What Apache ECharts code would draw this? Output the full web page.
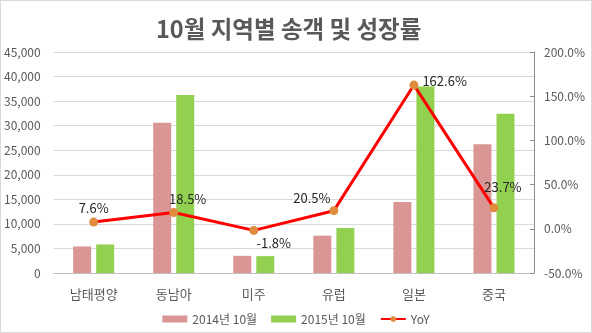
<!DOCTYPE html>
<html>
<head>
<meta charset="utf-8">
<script src="https://cdn.jsdelivr.net/npm/echarts@6/dist/echarts.min.js"></script>
<style>
  html, body { margin: 0; padding: 0; background: #fff; }
  #chart { width: 590px; height: 331px; border: 1px solid #d9d9d9; }
</style>
</head>
<body>
<div id="chart"></div>
<script>
// Regions and monthly passenger counts (October)
const categories = ['남태평양', '동남아', '미주', '유럽', '일본', '중국'];
const pax2014 = [5400, 30600, 3500, 7600, 14450, 26200];
const pax2015 = [5810, 36260, 3437, 9160, 37950, 32410];
// Year-over-year growth, percent
const yoy = [7.6, 18.5, -1.8, 20.5, 162.6, 23.7];
const yoyLabelPos = ['top', 'top', 'bottom', 'top', 'right', 'top'];
const yoyLabelOffset = [[0, 3], [14, 4], [20, -4], [-22, 4], [-2, -4], [9, -4]];

const FONT = '"Noto Sans CJK KR", "Noto Sans", sans-serif';
const TXT = '#595959';

const chart = echarts.init(document.getElementById('chart'), null, { renderer: 'canvas' });

chart.setOption({
  animation: false,
  textStyle: { fontFamily: FONT },
  title: {
    text: '10월 지역별 송객 및 성장률',
    left: 150,
    top: 11,
    textStyle: { fontFamily: FONT, fontSize: 23.5, fontWeight: 'bold', color: TXT }
  },
  grid: { left: 49, right: 57, top: 51, bottom: 59 },
  legend: {
    bottom: 2,
    left: 'center',
    itemWidth: 25,
    itemHeight: 7,
    itemGap: 14,
    textStyle: { fontFamily: FONT, fontSize: 12, color: TXT },
    data: [
      { name: '2014년 10월', icon: 'rect' },
      { name: '2015년 10월', icon: 'rect' },
      { name: 'YoY' }
    ]
  },
  xAxis: {
    type: 'category',
    data: categories,
    axisLine: { show: true, lineStyle: { color: '#bfbfbf' } },
    axisTick: { show: false },
    axisLabel: { fontFamily: FONT, fontSize: 13, color: TXT, margin: 15 }
  },
  yAxis: [
    {
      type: 'value',
      min: 0,
      max: 45000,
      interval: 5000,
      axisLine: { show: false },
      axisTick: { show: false },
      splitLine: { lineStyle: { color: '#d9d9d9' } },
      axisLabel: {
        fontFamily: FONT, fontSize: 12, color: TXT, margin: 13,
        formatter: v => v.toLocaleString('en-US')
      }
    },
    {
      type: 'value',
      min: -50,
      max: 200,
      interval: 50,
      position: 'right',
      axisLine: { show: true, lineStyle: { color: '#8c8c8c' } },
      axisTick: { show: true, inside: true, length: 4, lineStyle: { color: '#8c8c8c' } },
      splitLine: { show: false },
      axisLabel: {
        fontFamily: FONT, fontSize: 12, color: TXT, margin: 10,
        formatter: v => v.toFixed(1) + '%'
      }
    }
  ],
  series: [
    {
      name: '2014년 10월',
      type: 'bar',
      data: pax2014,
      barWidth: 18,
      barGap: '28%',
      itemStyle: { color: '#d99694' }
    },
    {
      name: '2015년 10월',
      type: 'bar',
      data: pax2015,
      barWidth: 18,
      itemStyle: { color: '#92d050' }
    },
    {
      name: 'YoY',
      type: 'line',
      yAxisIndex: 1,
      data: yoy.map((v, i) => ({
        value: v,
        label: { position: yoyLabelPos[i], offset: yoyLabelOffset[i] }
      })),
      symbol: 'circle',
      symbolSize: 9,
      lineStyle: { color: '#ff0000', width: 3 },
      itemStyle: { color: '#e08c3e' },
      label: {
        show: true,
        fontFamily: FONT,
        fontSize: 13,
        color: '#262626',
        distance: 6,
        formatter: p => p.value.toFixed(1) + '%'
      },
      z: 5
    }
  ]
});
</script>
</body>
</html>
